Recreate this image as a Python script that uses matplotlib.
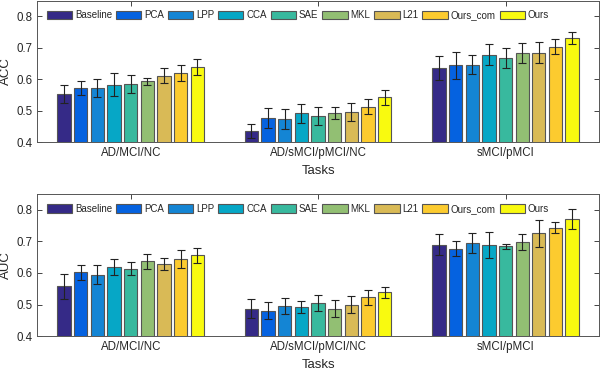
import numpy as np
import matplotlib
matplotlib.use("Agg")
import matplotlib.pyplot as plt

plt.rcParams.update({"font.family": ["Liberation Sans", "DejaVu Sans"], "font.size": 8})

tasks = ["AD/MCI/NC", "AD/sMCI/pMCI/NC", "sMCI/pMCI"]
methods = ["Baseline", "PCA", "LPP", "CCA", "SAE", "MKL", "L21", "Ours_com", "Ours"]
colors = ["#352a87", "#0562e0", "#1485d4", "#06a7c6", "#38b99e",
          "#92bf73", "#d9ba56", "#fccb2f", "#f9fa0f"]

# rows = methods, columns = tasks
acc_mean = [[0.553, 0.436, 0.636],
            [0.571, 0.477, 0.644],
            [0.573, 0.474, 0.647],
            [0.583, 0.492, 0.678],
            [0.584, 0.484, 0.669],
            [0.594, 0.493, 0.684],
            [0.612, 0.495, 0.685],
            [0.620, 0.513, 0.703],
            [0.639, 0.542, 0.731]]
acc_err = [[0.028, 0.022, 0.039],
           [0.022, 0.032, 0.043],
           [0.029, 0.032, 0.029],
           [0.037, 0.030, 0.034],
           [0.029, 0.029, 0.032],
           [0.011, 0.020, 0.033],
           [0.025, 0.029, 0.034],
           [0.027, 0.023, 0.024],
           [0.025, 0.024, 0.018]]
auc_mean = [[0.558, 0.487, 0.689],
            [0.602, 0.481, 0.677],
            [0.594, 0.496, 0.695],
            [0.618, 0.492, 0.688],
            [0.614, 0.505, 0.685],
            [0.637, 0.487, 0.697],
            [0.629, 0.500, 0.726],
            [0.644, 0.523, 0.744],
            [0.656, 0.539, 0.771]]
auc_err = [[0.039, 0.029, 0.033],
           [0.024, 0.027, 0.024],
           [0.030, 0.025, 0.031],
           [0.026, 0.020, 0.042],
           [0.021, 0.025, 0.008],
           [0.024, 0.026, 0.025],
           [0.018, 0.026, 0.043],
           [0.028, 0.024, 0.018],
           [0.023, 0.017, 0.032]]

GRAY = "#262626"


def draw(ax, means, errs, ylabel):
    x = np.arange(1, len(tasks) + 1)
    n = len(methods)
    slot = 0.8 / n
    for i, (m, c) in enumerate(zip(methods, colors)):
        pos = x - 0.4 + slot * (i + 0.5)
        ax.bar(pos, means[i], width=slot * 0.8, bottom=0, color=c,
               edgecolor="#555555", linewidth=0.8, label=m, zorder=2)
        ax.errorbar(pos, means[i], yerr=errs[i], fmt="none", ecolor="#222222",
                    elinewidth=0.8, capsize=2.8, capthick=0.8, zorder=3)
    ax.set_xlim(0.5, 3.5)
    ax.set_ylim(0.4, 0.85)
    ax.set_yticks([0.4, 0.5, 0.6, 0.7, 0.8])
    ax.set_xticks(x)
    ax.set_xticklabels(tasks)
    ax.set_ylabel(ylabel, fontsize=9.5, color=GRAY, labelpad=3)
    ax.set_xlabel("Tasks", fontsize=9.5, color=GRAY, labelpad=4)
    ax.tick_params(direction="in", top=True, right=True, length=3.5,
                   width=0.6, colors=GRAY, labelsize=8.3, pad=3.5)
    for s in ax.spines.values():
        s.set_color("#555555")
        s.set_linewidth(0.7)
    ax.legend(ncol=9, loc="upper left", bbox_to_anchor=(0.0, 1.0), frameon=False,
              fontsize=7.0, handlelength=2.6, handleheight=1.0, handletextpad=0.3,
              columnspacing=0.4, borderaxespad=0.6, labelcolor=GRAY)


fig = plt.figure(figsize=(6.0, 3.71), dpi=100)
ax1 = fig.add_axes([0.0617, 0.617, 0.937, 0.381])
ax2 = fig.add_axes([0.0617, 0.094, 0.937, 0.383])
draw(ax1, acc_mean, acc_err, "ACC")
draw(ax2, auc_mean, auc_err, "AUC")
fig.savefig("out.png", dpi=100, facecolor="white")
